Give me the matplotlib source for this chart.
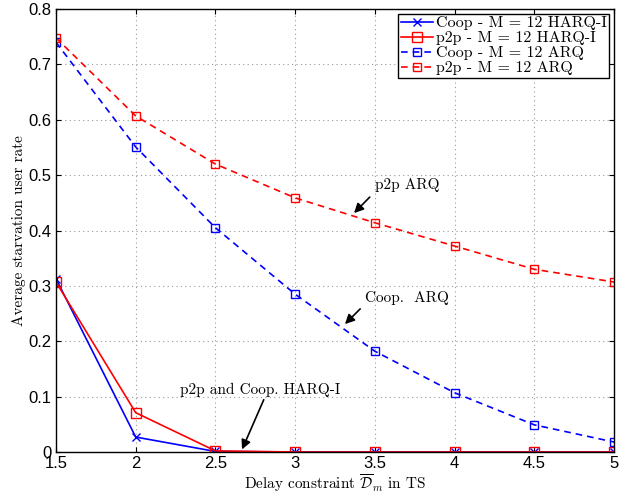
import matplotlib
matplotlib.use('Agg')
import matplotlib.pyplot as plt
import numpy as np

plt.rcParams['mathtext.fontset'] = 'cm'

delay = [1.5, 2, 2.5, 3, 3.5, 4, 4.5, 5]
coop_harq = [0.313, 0.027, 0.001, 0.0, 0.0, 0.0, 0.0, 0.0]
p2p_harq = [0.307, 0.071, 0.002, 0.0, 0.0, 0.0, 0.0, 0.0]
coop_arq = [0.740, 0.551, 0.405, 0.285, 0.182, 0.107, 0.049, 0.018]
p2p_arq = [0.748, 0.607, 0.520, 0.459, 0.414, 0.372, 0.330, 0.307]

serif = 'cmr10'

fig = plt.figure(figsize=(6.39, 4.96), dpi=100)
ax = fig.add_axes([0.0876, 0.0887, 0.8734, 0.893])

ax.plot(delay, coop_harq, color='blue', marker='x', markersize=6, lw=1.2,
        label='Coop - M = 12 HARQ-I')
ax.plot(delay, p2p_harq, color='red', marker='s', markersize=7, mfc='none', lw=1.2,
        label='p2p - M = 12 HARQ-I')
ax.plot(delay, coop_arq, color='blue', marker='s', markersize=6, mfc='none', lw=1.2,
        linestyle=(0, (4, 3)), label='Coop - M = 12 ARQ')
ax.plot(delay, p2p_arq, color='red', marker='s', markersize=6, mfc='none', lw=1.2,
        linestyle=(0, (4, 3)), label='p2p - M = 12 ARQ')

ax.set_xlim(1.5, 5)
ax.set_ylim(0, 0.8)
ax.set_xticks(np.arange(1.5, 5.01, 0.5))
ax.set_xticklabels(['1.5', '2', '2.5', '3', '3.5', '4', '4.5', '5'])
ax.set_yticks(np.arange(0, 0.81, 0.1))
ax.set_yticklabels(['0', '0.1', '0.2', '0.3', '0.4', '0.5', '0.6', '0.7', '0.8'])
ax.tick_params(direction='in', top=True, right=True, labelsize=12, pad=3)
for lab in ax.get_xticklabels() + ax.get_yticklabels():
    lab.set_family('Liberation Sans')
ax.grid(True, color='#999999', linestyle=(0, (1, 3)), lw=0.8)
for s in ax.spines.values():
    s.set_linewidth(1.0)

ax.set_xlabel(r'Delay constraint $\overline{\mathcal{D}}_m$ in TS', family=serif, fontsize=11,
              labelpad=1)
ax.set_ylabel('Average starvation user rate', family=serif, fontsize=11, labelpad=2)

leg = ax.legend(loc='upper right', prop={'family': serif, 'size': 11.5}, fancybox=False,
                edgecolor='black', framealpha=1, handlelength=2.0, handletextpad=0.2,
                borderpad=0.15, labelspacing=0.05, borderaxespad=0.3)
leg.get_frame().set_linewidth(1.0)

arrow = dict(arrowstyle='-|>', color='black', lw=1.2, mutation_scale=14)
ax.annotate('', xy=(3.357, 0.428), xytext=(3.48, 0.464), arrowprops=arrow)
ax.text(3.5, 0.47, 'p2p ARQ', family=serif, fontsize=11, ha='left', va='bottom')
ax.annotate('', xy=(3.30, 0.2275), xytext=(3.42, 0.262), arrowprops=arrow)
ax.text(3.44, 0.278, 'Coop.  ARQ', family=serif, fontsize=11, ha='left', va='center')
ax.annotate('', xy=(2.66, 0.0), xytext=(2.81, 0.099), arrowprops=arrow)
ax.text(2.28, 0.112, 'p2p and Coop. HARQ-I', family=serif, fontsize=11, ha='left', va='center')

fig.savefig('out.png', dpi=100)
